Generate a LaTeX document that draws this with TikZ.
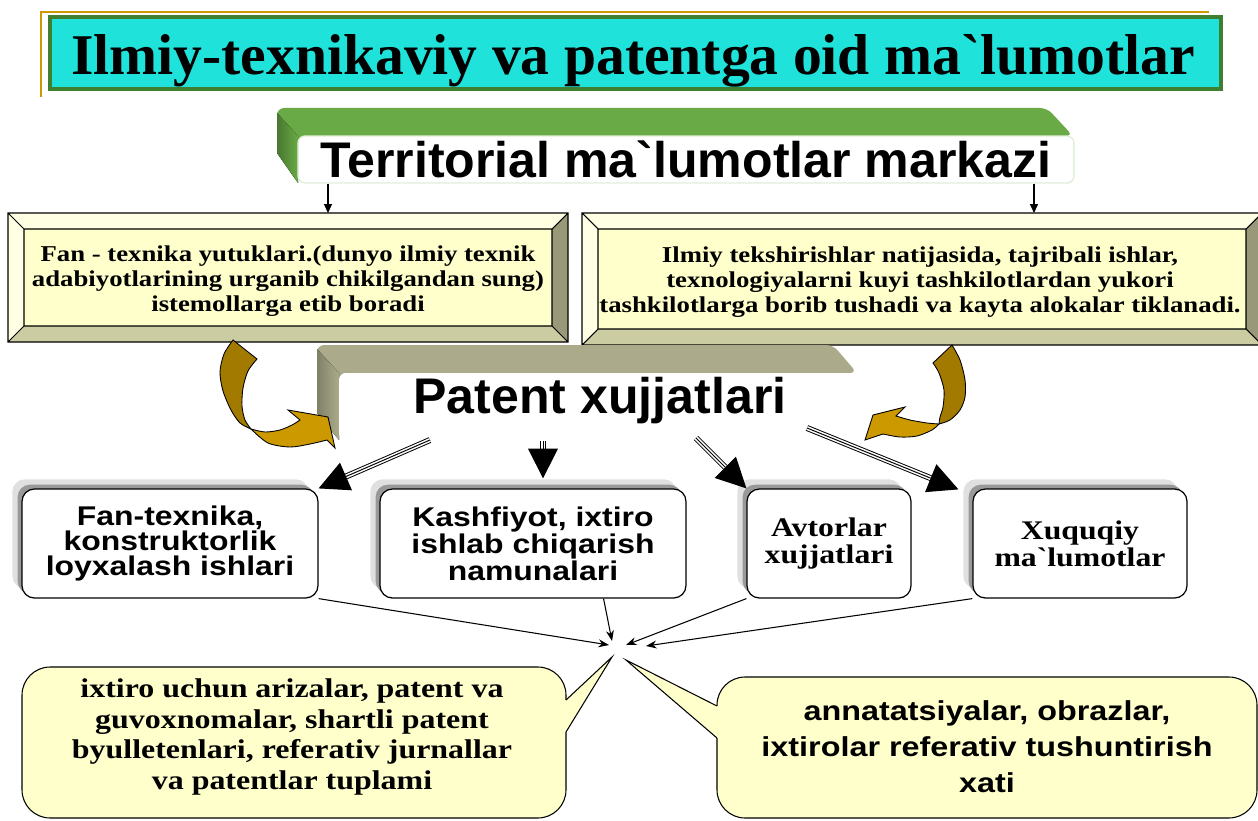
\documentclass[tikz,border=0pt]{standalone}
\usepackage{fontspec}
\setmainfont{Liberation Serif}[Ligatures=TeXOff]
\setsansfont{Liberation Sans}[Ligatures=TeXOff]
\newfontfamily\serifwide{Liberation Serif}[FakeStretch=1.18, Ligatures=TeXOff]
\newfontfamily\sanswide{Liberation Sans}[FakeStretch=1.18, Ligatures=TeXOff]
\usepackage{tikz}
\usetikzlibrary{arrows.meta, positioning, calc, shadows}

\definecolor{goldline}{HTML}{CC9900}
\definecolor{titlecyan}{HTML}{1FE3DA}
\definecolor{titlegreen}{HTML}{3F8030}
\definecolor{ribbongreen}{HTML}{69AA46}
\definecolor{ribbonolive}{HTML}{ABAB8B}
\definecolor{paleyellow}{HTML}{FFFFCC}
\definecolor{bevellight}{HTML}{FFFFE4}
\definecolor{bevelbottom}{HTML}{CCCCA3}
\definecolor{bevelright}{HTML}{99997A}
\definecolor{goldfront}{HTML}{CC9900}
\definecolor{goldback}{HTML}{A37A00}

\tikzset{
    gold_frame/.style={draw=goldline, line width=1.2pt},
    title_frame/.style={draw=titlegreen, line width=2.2pt, fill=titlecyan},
    title_text/.style={anchor=base, font=\fontsize{32.8}{36}\selectfont\bfseries},
    label_box/.style={rectangle, rounded corners=4pt, fill=white, draw=ribbongreen!20, line width=0.8pt},
    ribbon_label/.style={anchor=base, font=\fontsize{28.5}{32}\selectfont\sffamily\bfseries},
    bevel_top/.style={fill=bevellight},
    bevel_left/.style={fill=bevellight},
    bevel_bottom/.style={fill=bevelbottom},
    bevel_right/.style={fill=bevelright},
    bevel_edge/.style={draw=black, line width=0.6pt},
    bevel_text/.style={align=center, font=\serifwide\fontsize{12.9}{14.2}\selectfont\bfseries},
    doc_box/.style={
        rectangle, rounded corners=7pt, draw=black, line width=0.7pt, fill=white,
        minimum height=2.18cm, align=center,
        general shadow={fill=black!12, shadow xshift=-5.5pt, shadow yshift=5.5pt},
        general shadow={fill=black!40, shadow xshift=-2.5pt, shadow yshift=2.5pt}
    },
    doc_sans/.style={font=\sanswide\fontsize{15.4}{14.2}\selectfont\bfseries},
    doc_serif/.style={font=\serifwide\fontsize{15.3}{15.4}\selectfont\bfseries},
    note_shape/.style={fill=paleyellow, draw=black, line width=0.6pt, rounded corners=16pt},
    note_edge/.style={draw=black, line width=0.6pt},
    note_serif/.style={align=center, font=\serifwide\fontsize{15.4}{17.6}\selectfont\bfseries},
    note_sans/.style={align=center, font=\sanswide\fontsize{15.6}{20.5}\selectfont\bfseries},
    gold_front/.style={fill=goldfront, draw=black, line width=0.5pt},
    gold_back/.style={fill=goldback, draw=black, line width=0.5pt},
    top_arrow/.style={-{Triangle[length=5pt, width=4.5pt]}, line width=0.6pt},
    thin_arrow/.style={-{Stealth[length=6pt, width=4.5pt]}, line width=0.6pt},
    tri_line/.style={line width=0.55pt, double=white, double distance=2.3pt, shorten >=12pt},
    tri_head/.style={line width=0.55pt, -{Triangle[length=17pt, width=17pt]}}
}

\begin{document}
\begin{tikzpicture}[x=0.02cm, y=-0.02cm, >=Stealth]
    \useasboundingbox (0,0) rectangle (1258,821);

    % title
    \draw[gold_frame] (41,97) -- (41,12) -- (1209,12);
    \draw[title_frame] (50,17) rectangle (1221,89);
    \node[title_text] (title) at (633,75) {Ilmiy-texnikaviy va patentga oid ma`lumotlar};

    % green ribbon
    \fill[ribbongreen, rounded corners=4pt] (277,153) -- (277,108) -- (1047,108) -- (1073,136) -- (298,136) -- (298,183) -- cycle;
    \fill[left color=ribbongreen!70!black, right color=ribbongreen] (277,153) -- (277,113) -- (298,136) -- (298,183) -- cycle;
    \node[label_box, minimum width=15.52cm, minimum height=0.94cm] (terr_box) at (686,159.5) {};
    \node[ribbon_label] (terr) at (686,177) {Territorial ma`lumotlar markazi};

    % bevel boxes
    \foreach \xa/\ya/\xb/\yb in {8/213/568/342, 582/213/1262/345} {
        \fill[paleyellow] (\xa+16,\ya+16) rectangle (\xb-16,\yb-16);
        \fill[bevel_top] (\xa,\ya) -- (\xb,\ya) -- (\xb-16,\ya+16) -- (\xa+16,\ya+16) -- cycle;
        \fill[bevel_left] (\xa,\ya) -- (\xa+16,\ya+16) -- (\xa+16,\yb-16) -- (\xa,\yb) -- cycle;
        \fill[bevel_bottom] (\xa,\yb) -- (\xa+16,\yb-16) -- (\xb-16,\yb-16) -- (\xb,\yb) -- cycle;
        \fill[bevel_right] (\xb,\ya) -- (\xb-16,\ya+16) -- (\xb-16,\yb-16) -- (\xb,\yb) -- cycle;
        \draw[bevel_edge] (\xa,\ya) rectangle (\xb,\yb) (\xa+16,\ya+16) rectangle (\xb-16,\yb-16)
            (\xa,\ya) -- (\xa+16,\ya+16) (\xb,\ya) -- (\xb-16,\ya+16)
            (\xa,\yb) -- (\xa+16,\yb-16) (\xb,\yb) -- (\xb-16,\yb-16);
    }
    \node[bevel_text] (fan) at (288,281) {Fan - texnika yutuklari.(dunyo ilmiy texnik\\adabiyotlarining urganib chikilgandan sung)\\istemollarga etib boradi};
    \node[bevel_text] (ilmiy) at (920,282) {Ilmiy tekshirishlar natijasida, tajribali ishlar,\\texnologiyalarni kuyi tashkilotlardan yukori\\tashkilotlarga borib tushadi va kayta alokalar tiklanadi.};

    \coordinate (fan_top) at (328,213);
    \coordinate (ilmiy_top) at (1034,213);
    \draw[top_arrow] (terr_box.south -| fan_top) -- (fan_top);
    \draw[top_arrow] (terr_box.south -| ilmiy_top) -- (ilmiy_top);

    % olive ribbon
    \fill[ribbonolive, rounded corners=4pt] (317,413) -- (317,345) -- (833,345) -- (857,373) -- (339,373) -- (339,440) -- cycle;
    \fill[left color=ribbonolive!75!black, right color=ribbonolive] (317,413) -- (317,349) -- (339,373) -- (339,440) -- cycle;
    \node[label_box, draw=none, minimum width=10.36cm, minimum height=1.34cm] (pat_box) at (598,406.5) {};
    \node[ribbon_label] (pat) at (600,413) {Patent xujjatlari};

    % curved arrows
    \filldraw[gold_front] (251,429) -- plot[smooth] coordinates {(251,429) (265,432) (280,430) (292,425) (300,420)}
        -- (288,410) -- (328,417) -- (335,448) -- (327,440)
        -- plot[smooth] coordinates {(327,440) (310,444) (290,447) (268,443) (251,429)} -- cycle;
    \filldraw[gold_back] (233,340) -- (257,359)
        -- plot[smooth] coordinates {(257,359) (248,371) (243,388) (242,406) (245,420) (251,429)}
        -- plot[smooth] coordinates {(251,429) (240,423) (231,410) (223,391) (220,372) (224,354) (233,340)} -- cycle;
    \filldraw[gold_front] (939,424) -- plot[smooth] coordinates {(939,424) (927,423) (910,420) (896,416)}
        -- (905,407) -- (873,415) -- (865,440) -- (883,434)
        -- plot[smooth] coordinates {(883,434) (900,437) (917,436) (932,430) (939,424)} -- cycle;
    \filldraw[gold_back] (952,345) -- (933,363)
        -- plot[smooth] coordinates {(933,363) (939,373) (944,390) (943,407) (940,417) (939,424)}
        -- plot[smooth] coordinates {(939,424) (950,420) (960,410) (965,397) (965,380) (960,360) (952,345)} -- cycle;

    % document boxes
    \node[doc_box, doc_sans, minimum width=5.92cm] (boxA) at (170,543.5) {Fan-texnika,\\konstruktorlik\\loyxalash ishlari};
    \node[doc_box, doc_sans, minimum width=6.12cm] (boxB) at (533,543.5) {Kashfiyot, ixtiro\\ishlab chiqarish\\namunalari};
    \node[doc_box, doc_serif, minimum width=3.28cm] (boxC) at (829,543.5) {Avtorlar\\xujjatlari};
    \node[doc_box, doc_serif, minimum width=4.28cm] (boxD) at (1080,543.5) {Xuquqiy\\ma`lumotlar};

    % triple arrows
    \coordinate (p1) at (430,440);
    \coordinate (p2) at (543,441);
    \coordinate (p3) at (696,438);
    \coordinate (p4) at (807,428);
    \coordinate (q2) at ($(boxB.north)+(10,-10)$);
    \coordinate (q4) at ($(boxD.north west)+(-14,1)$);
    \foreach \s/\t in {p1/boxA.north east, p2/q2, p3/boxC.north west, p4/q4} {
        \draw[tri_line] (\s) -- (\t);
        \draw[tri_head] (\s) -- (\t);
    }

    % arrows to the notes
    \coordinate (hub_a) at (609,645);
    \coordinate (hub_b) at (612,641);
    \coordinate (hub_c) at (626,645);
    \coordinate (hub_d) at (646,646);
    \draw[thin_arrow] (boxA.south east) -- (hub_a);
    \draw[thin_arrow] (boxB.-38) -- (hub_b);
    \draw[thin_arrow] (boxC.south west) -- (hub_c);
    \draw[thin_arrow] (boxD.south west) -- (hub_d);

    % notes
    \coordinate (tip_left) at (612,657);
    \coordinate (tip_right) at (626,660);
    \filldraw[note_shape] (22,667) rectangle (566,818);
    \fill[paleyellow] (560,700) -- (566,700) -- (tip_left) -- (566,732) -- (560,732) -- cycle;
    \draw[note_edge] (566,700) -- (tip_left) -- (566,732);
    \filldraw[note_shape] (717,677) rectangle (1257,818);
    \fill[paleyellow] (723,706) -- (717,706) -- (tip_right) -- (717,738) -- (723,738) -- cycle;
    \draw[note_edge] (717,706) -- (tip_right) -- (717,738);
    \node[note_serif] (note_left) at (292,737) {ixtiro uchun arizalar, patent va\\guvoxnomalar, shartli patent\\byulletenlari, referativ jurnallar\\va patentlar tuplami};
    \node[note_sans] (note_right) at (987,747) {annatatsiyalar, obrazlar,\\ixtirolar referativ tushuntirish\\xati};

\end{tikzpicture}
\end{document}
